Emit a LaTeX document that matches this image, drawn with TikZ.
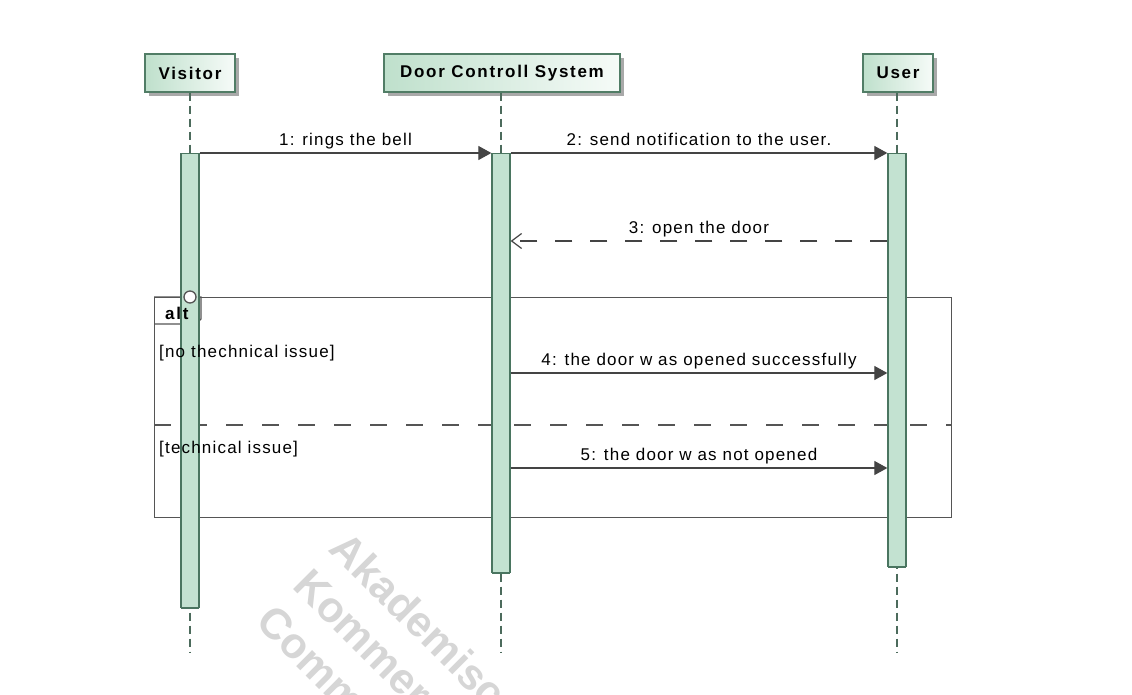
\documentclass[tikz,border=0pt]{standalone}
\usepackage{fontspec}
\setmainfont{Liberation Sans}
\newfontfamily\lblfont[LetterSpace=7]{Liberation Sans}
\newfontfamily\hdrfont[LetterSpace=10]{Liberation Sans}
\usetikzlibrary{arrows.meta,calc,shadows}
\definecolor{hdrline}{HTML}{517D66}
\definecolor{hdrL}{HTML}{BFE0CC}
\definecolor{hdrR}{HTML}{F6FBF8}
\definecolor{shadowgray}{HTML}{A9A9A9}
\definecolor{barline}{HTML}{4A7560}
\definecolor{barfill}{HTML}{C3E2D1}
\definecolor{lifeline}{HTML}{4C6B5C}
\definecolor{msgline}{HTML}{444444}
\definecolor{framecol}{HTML}{555555}
\definecolor{wmgray}{HTML}{D6D6D6}
\begin{document}
\begin{tikzpicture}[x=1pt,y=-1pt,
  hdr/.style={draw=hdrline, line width=1.3pt, left color=hdrL, right color=hdrR,
    minimum height=38pt, inner sep=0pt,
    font=\hdrfont\bfseries\fontsize{17}{20}\selectfont,
    drop shadow={shadow xshift=4pt, shadow yshift=-4pt, fill=shadowgray, opacity=1}},
  actbar/.style={draw=barline, fill=barfill, line width=1.3pt, minimum width=18pt,
    inner sep=0pt, anchor=north},
  life/.style={draw=lifeline, line width=1.2pt, dash pattern=on 8pt off 5pt},
  msg/.style={draw=msgline, line width=1.2pt, -{Triangle[length=13pt,width=14pt]}},
  reply/.style={draw=msgline, line width=1.2pt, dash pattern=on 17pt off 18pt,
    -{Straight Barb[length=10pt,width=15pt]}},
  lbl/.style={font=\lblfont\fontsize{17}{20}\selectfont, inner sep=0pt, anchor=base},
  guard/.style={lbl, anchor=base west},
  frameline/.style={draw=framecol, line width=1.3pt},
  wm/.style={font=\bfseries\fontsize{43}{52}\selectfont, text=wmgray, inner sep=0pt,
    rotate=-45, align=left}
]
\useasboundingbox (0,0) rectangle (1132,694);
\clip (0,0) rectangle (1132,694);

% watermark
\node[wm, anchor=north west] (wm) at (350,528) {Akademisc\\Kommer\\Comm};

% headers
\node[hdr, minimum width=90pt] (vis) at (190,73) {Visitor};
\node[hdr, minimum width=236pt] (dcs) at (502,73) {Door Controll System};
\node[hdr, minimum width=70pt] (usr) at (898,73) {User};

% lifeline ends
\coordinate (vend) at (190,652);
\coordinate (dend) at (501,652);
\coordinate (uend) at (897,652);
\draw[life] (vis.south) -- (vend);
\draw[life] (dcs.south -| dend) -- (dend);
\draw[life] (usr.south -| uend) -- (uend);

% alt frame
\node[frameline, minimum width=797pt, minimum height=220pt, inner sep=0pt,
  anchor=north west] (altf) at (154,297) {};
\draw[frameline] (altf.north west) -- ++(47,0) -- ++(0,22) -- ++(-5,5) -- ++(-42,0);
\draw[frameline, dash pattern=on 17pt off 19pt]
  ($(altf.north west)+(0,128)$) coordinate (dvl) -- ($(altf.north east)+(0,128)$) coordinate (dvr);

% activation bars
\node[actbar, minimum height=454pt] (vbar) at (190,153) {};
\node[actbar, minimum height=419pt] (dbar) at (501,153) {};
\node[actbar, minimum height=413pt] (ubar) at (897,153) {};
\draw[barline, line width=2.2pt] ($(vbar.south west)+(0.6,-0.6)$) -- ($(vbar.south east)+(-0.6,-0.6)$);
\draw[barline, line width=2.2pt] ($(dbar.south west)+(0.6,-0.6)$) -- ($(dbar.south east)+(-0.6,-0.6)$);
\draw[barline, line width=2.2pt] ($(ubar.south west)+(0.6,-0.6)$) -- ($(ubar.south east)+(-0.6,-0.6)$);

% interaction point
\node[circle, draw=framecol, fill=white, line width=1.3pt, minimum size=12pt, inner sep=0pt]
  (ip) at (190,297) {};

% alt label and guards
\node[font=\hdrfont\bfseries\fontsize{17}{20}\selectfont, inner sep=0pt, anchor=base west]
  (altlbl) at (165,319) {alt};
\node[guard] (g1) at (159,357) {[no thechnical issue]};
\node[guard] (g2) at (159,453) {[technical issue]};

% message end points
\coordinate (m3s) at ($(ubar.north west)+(0,88)$);
\coordinate (m3e) at ($(dbar.north east)+(0,88)$);
\coordinate (m4s) at ($(dbar.north east)+(0,220)$);
\coordinate (m4e) at ($(ubar.north west)+(0,220)$);
\coordinate (m5s) at ($(dbar.north east)+(0,315)$);
\coordinate (m5e) at ($(ubar.north west)+(0,315)$);

% messages
\draw[msg] (vbar.north east) -- (dbar.north west);
\node[lbl] (l1) at ($(vbar.north east)!0.5!(dbar.north west)+(0,-8)$) {1: rings the bell};
\draw[msg] (dbar.north east) -- (ubar.north west);
\node[lbl] (l2) at ($(dbar.north east)!0.5!(ubar.north west)+(0,-8)$) {2: send notification to the user.};
\draw[reply] (m3s) -- (m3e);
\node[lbl] (l3) at ($(m3s)!0.5!(m3e)+(0,-8)$) {3: open the door};
\draw[msg] (m4s) -- (m4e);
\node[lbl] (l4) at ($(m4s)!0.5!(m4e)+(0,-8)$) {4: the door w as opened successfully};
\draw[msg] (m5s) -- (m5e);
\node[lbl] (l5) at ($(m5s)!0.5!(m5e)+(0,-8)$) {5: the door w as not opened};
\end{tikzpicture}
\end{document}
